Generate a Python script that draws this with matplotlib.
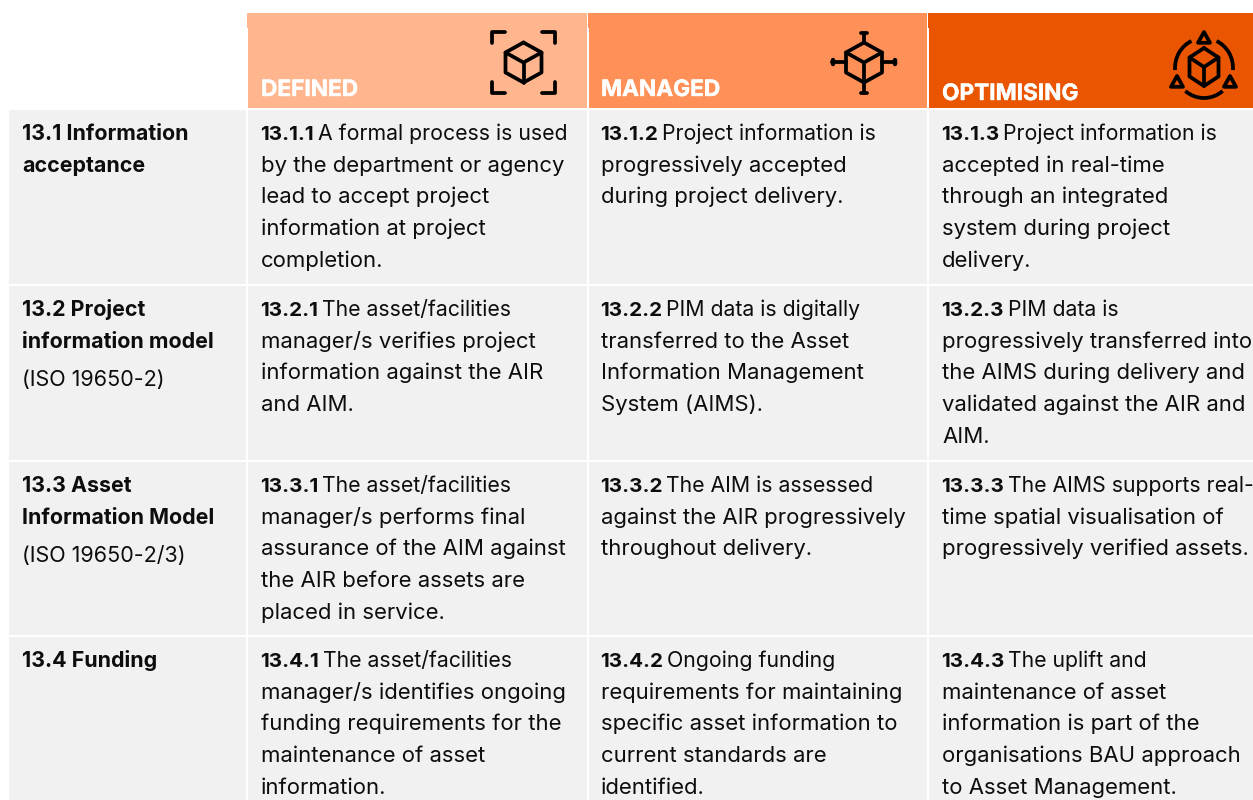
import matplotlib
matplotlib.use('Agg')
import matplotlib.pyplot as plt
import matplotlib.patheffects as pe
from matplotlib.patches import Rectangle, Polygon, Arc

W, H = 1253, 800
BODY_FONT = 'Inter'
HEAD_FONT = 'Inter'
BODY_SIZE = 15.9
FIRST_SIZE = 15.3
CODE_SIZE = 14.8
TITLE_SIZE = 15.4
LINE = 31.7

headers = ['DEFINED', 'MANAGED', 'OPTIMISING']
header_colors = ['#FFB68F', '#FF9057', '#E95500']

row_titles = [
    ['13.1 Information', 'acceptance'],
    ['13.2 Project', 'information model'],
    ['13.3 Asset', 'Information Model'],
    ['13.4 Funding'],
]
row_notes = ['', '(ISO 19650-2)', '(ISO 19650-2/3)', '']

codes = [
    ['13.1.1', '13.1.2', '13.1.3'],
    ['13.2.1', '13.2.2', '13.2.3'],
    ['13.3.1', '13.3.2', '13.3.3'],
    ['13.4.1', '13.4.2', '13.4.3'],
]

cells = [
    [
        ['A formal process is used', 'by the department or agency', 'lead to accept project',
         'information at project', 'completion.'],
        ['Project information is', 'progressively accepted', 'during project delivery.'],
        ['Project information is', 'accepted in real-time', 'through an integrated',
         'system during project', 'delivery.'],
    ],
    [
        ['The asset/facilities', 'manager/s verifies project', 'information against the AIR', 'and AIM.'],
        ['PIM data is digitally', 'transferred to the Asset', 'Information Management', 'System (AIMS).'],
        ['PIM data is', 'progressively transferred into', 'the AIMS during delivery and',
         'validated against the AIR and', 'AIM.'],
    ],
    [
        ['The asset/facilities', 'manager/s performs final', 'assurance of the AIM against',
         'the AIR before assets are', 'placed in service.'],
        ['The AIM is assessed', 'against the AIR progressively', 'throughout delivery.'],
        ['The AIMS supports real-', 'time spatial visualisation of', 'progressively verified assets.'],
    ],
    [
        ['The asset/facilities', 'manager/s identifies ongoing', 'funding requirements for the',
         'maintenance of asset', 'information.'],
        ['Ongoing funding', 'requirements for maintaining', 'specific asset information to',
         'current standards are', 'identified.'],
        ['The uplift and', 'maintenance of asset', 'information is part of the',
         'organisations BAU approach', 'to Asset Management.'],
    ],
]

col_edges = [(9, 246), (248, 587), (589, 927), (929, 1253)]
row_edges = [(110, 284), (286, 460), (462, 635), (637, 800)]
text_x = [22, 261, 601, 942]
baselines = [140, 316, 492, 667]
head_base = [96, 96, 100]

fig = plt.figure(figsize=(W / 100, H / 100), dpi=100, facecolor='white')
ax = fig.add_axes([0, 0, 1, 1])
ax.set_xlim(0, W)
ax.set_ylim(H, 0)
ax.axis('off')


def box(x0, x1, y0, y1, color):
    ax.add_patch(Rectangle((x0, y0), x1 - x0, y1 - y0, fc=color, ec='none'))


def line(xs, ys, lw=2.7):
    ax.plot(xs, ys, color='black', lw=lw, solid_capstyle='round', solid_joinstyle='round')


def cube(cx, cy, rx, ry, lw=2.7):
    xs = [cx, cx + rx, cx + rx, cx, cx - rx, cx - rx, cx]
    ys = [cy - ry, cy - ry / 2, cy + ry / 2, cy + ry, cy + ry / 2, cy - ry / 2, cy - ry]
    line(xs, ys, lw)
    line([cx - rx, cx, cx + rx], [cy - ry / 2, cy, cy - ry / 2], lw)
    line([cx, cx], [cy, cy + ry], lw)


def triangle(cx, cy, r):
    ax.add_patch(Polygon([(cx, cy - r), (cx + r, cy + r * 0.8), (cx - r, cy + r * 0.8)],
                         closed=True, fc='none', ec='black', lw=2.7, joinstyle='round'))


# backgrounds
for i, color in enumerate(header_colors):
    x0, x1 = col_edges[i + 1]
    box(x0, x1, 13, 108, color)
    box(x0 - 1, x0 + 1, 13, 28, color)
for (x0, x1) in col_edges:
    for (y0, y1) in row_edges:
        box(x0, x1, y0, y1, '#F1F1F1')

# header labels
for i, label in enumerate(headers):
    ax.text(text_x[i + 1], head_base[i], label, color='white', fontsize=16.3,
            family=HEAD_FONT, fontweight='bold', va='baseline',
            path_effects=[pe.withStroke(linewidth=0.3, foreground='white')])

# defined icon
cube(523.5, 62.5, 18, 20)
for sx, x in [(1, 492), (-1, 555)]:
    for sy, y in [(1, 32), (-1, 93)]:
        line([x + sx * 13, x, x], [y, y, y + sy * 11])

# managed icon
cube(864, 62.5, 18, 20)
line([832, 846], [62, 62])
line([882, 895], [62, 62])
line([864, 864], [33, 42])
line([864, 864], [83, 93])
line([833, 833], [60, 64], 3.2)
line([895, 895], [60, 64], 3.2)
line([861, 867], [33, 33], 2.7)
line([861, 867], [93, 93], 2.7)

# optimising icon
cube(1204, 67, 14.5, 19)
ax.add_patch(Arc((1204, 68), 58, 60, theta1=176, theta2=245, ec='black', lw=2.7))
ax.add_patch(Arc((1204, 68), 58, 60, theta1=295, theta2=4, ec='black', lw=2.7))
ax.add_patch(Arc((1204, 68), 58, 60, theta1=51, theta2=129, ec='black', lw=2.7))
triangle(1204, 38, 6)
triangle(1177, 82, 6)
triangle(1230, 82, 6)

# text
renderer = fig.canvas.get_renderer()
for r, base in enumerate(baselines):
    for k, title in enumerate(row_titles[r]):
        ax.text(text_x[0], base + k * LINE, title, fontsize=TITLE_SIZE, family=BODY_FONT,
                fontweight='bold', color='#0D0D0D', va='baseline')
    if row_notes[r]:
        ax.text(text_x[0], base + 2 * LINE + 7, row_notes[r], fontsize=BODY_SIZE - 0.4, family=BODY_FONT,
                color='#0D0D0D', va='baseline')
    for c in range(3):
        x = text_x[c + 1]
        code = ax.text(x - 0.5, base, codes[r][c], fontsize=CODE_SIZE, family=BODY_FONT,
                       fontweight='bold', color='#0D0D0D', va='baseline')
        width = code.get_window_extent(renderer).width
        for k, txt in enumerate(cells[r][c]):
            x_text = x + width + 3 if k == 0 else x
            size = FIRST_SIZE if k == 0 else BODY_SIZE
            ax.text(x_text, base + k * LINE, txt, fontsize=size, family=BODY_FONT,
                    color='#0D0D0D', va='baseline')

fig.savefig('out.png', dpi=100)
